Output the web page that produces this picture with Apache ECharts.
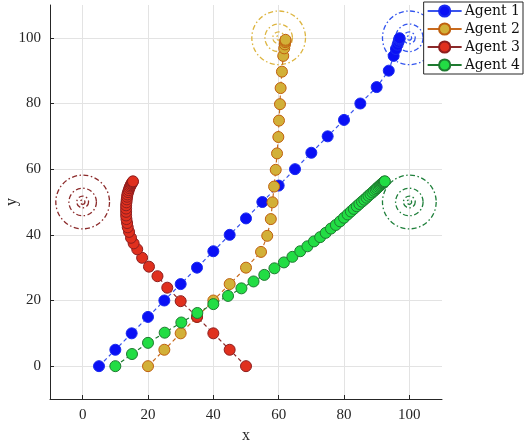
<!DOCTYPE html>
<html>
<head>
<meta charset="utf-8">
<script src="https://cdn.jsdelivr.net/npm/echarts@6/dist/echarts.min.js"></script>
<style>
  html, body { margin: 0; padding: 0; background: #fff; }
  #chart { width: 525px; height: 440px; }
</style>
</head>
<body>
<div id="chart"></div>
<script>
// trajectories
const agent1X = [5, 10, 15, 20, 25, 30, 35, 40, 45, 50, 55, 60, 65, 70, 75, 80, 85, 90, 93.7, 95.2, 95.9, 96.4, 96.7, 96.9, 97, 97];
const agent1Y = [0, 5, 10, 15, 20, 25, 30, 35, 40, 45, 50, 55, 60, 65, 70, 75, 80, 85, 90, 94.5, 96.6, 97.9, 98.8, 99.4, 99.7, 99.9];

const agent2X = [20, 25, 30, 35, 40, 45, 50, 54.6, 56.5, 57.6, 58.1, 58.6, 59.1, 59.5, 59.9, 60.1, 60.4, 60.6, 61, 61.4, 61.7, 61.9, 62, 62.1, 62.1];
const agent2Y = [0, 5, 10, 15, 20, 25, 30, 34.8, 39.7, 44.8, 49.9, 54.7, 59.8, 64.8, 69.8, 74.8, 79.8, 84.7, 89.7, 94.5, 96.8, 98, 98.7, 99.1, 99.4];

const agent3X = [50, 45, 40, 35, 30, 25.9, 22.9, 20.3, 18.2, 16.7, 15.6, 14.8, 14.2, 13.8, 13.6, 13.4, 13.3, 13.3, 13.3, 13.3, 13.4, 13.5, 13.6, 13.7, 13.9, 14.1, 14.3, 14.5, 14.7, 14.9, 15.1, 15.3, 15.4];
const agent3Y = [0, 5, 10, 15, 19.8, 23.9, 27.4, 30.3, 33, 35.6, 37.4, 39.1, 40.9, 42.3, 43.6, 44.8, 45.9, 47, 48, 49, 49.9, 50.8, 51.6, 52.3, 53, 53.6, 54.2, 54.7, 55.1, 55.5, 55.8, 56.1, 56.3];

const agent4X = [10, 15.1, 20, 25.1, 30.2, 35.1, 40, 44.5, 48.6, 52.3, 55.6, 58.7, 61.6, 64.2, 66.6, 68.8, 70.8, 72.7, 74.4, 76, 77.5, 78.8, 80, 81.1, 82.1, 83, 83.9, 84.7, 85.5, 86.2, 86.9, 87.5, 88.1, 88.7, 89.2, 89.7, 90.1, 90.5, 90.9, 91.2, 91.5, 91.8, 92, 92.2, 92.4, 92.5];
const agent4Y = [0, 3.7, 7.1, 10.2, 13.3, 16.2, 18.9, 21.4, 23.7, 25.8, 27.8, 29.8, 31.6, 33.3, 35, 36.5, 38, 39.3, 40.6, 41.9, 43, 44.1, 45.2, 46.2, 47.1, 47.9, 48.7, 49.4, 50.1, 50.7, 51.3, 51.9, 52.4, 52.9, 53.4, 53.8, 54.2, 54.6, 54.9, 55.2, 55.5, 55.7, 55.9, 56.1, 56.2, 56.3];

const agentNames = ['Agent 1', 'Agent 2', 'Agent 3', 'Agent 4'];
const targetX = [100, 60, 0, 100];
const targetY = [100, 100, 50, 50];
const ringRadii = [8.2, 4.2, 1.8, 0.7];
const tickValues = [0, 20, 40, 60, 80, 100];

const fillColors = ['#0a10f5', '#d2b038', '#e0301e', '#22dd44'];
const edgeColors = ['#1a2af0', '#c0600f', '#8e1e1e', '#1e7a30'];
const lineColors = ['#3a55ec', '#c86a1e', '#8b2a2a', '#1e7a30'];
const ringColors = ['#3355ee', '#ddb540', '#8b2a2a', '#1e7f3a'];

const trajX = [agent1X, agent2X, agent3X, agent4X];
const trajY = [agent1Y, agent2Y, agent3Y, agent4Y];

const chart = echarts.init(document.getElementById('chart'));
const font = 'Liberation Serif';

const ringData = [];
targetX.forEach((tx, i) => {
  ringRadii.forEach(r => ringData.push([tx, targetY[i], r, i]));
});

const series = [{
  type: 'custom',
  silent: true,
  data: ringData,
  z: 1,
  renderItem: (params, api) => {
    const c = api.coord([api.value(0), api.value(1)]);
    const s = api.size([api.value(2), api.value(2)]);
    return {
      type: 'circle',
      shape: { cx: c[0], cy: c[1], r: (s[0] + s[1]) / 2 },
      style: { fill: 'none', stroke: ringColors[api.value(3)], lineWidth: 1.3, lineDash: [5, 2.5, 1.5, 2.5] }
    };
  }
}];

agentNames.forEach((name, i) => {
  series.push({
    name: name,
    type: 'line',
    z: 3 + i,
    data: trajX[i].map((x, k) => [x, trajY[i][k]]),
    symbol: 'circle',
    symbolSize: 11,
    showSymbol: true,
    showAllSymbol: true,
    itemStyle: { color: fillColors[i], borderColor: edgeColors[i], borderWidth: 1 },
    lineStyle: { color: lineColors[i], width: 1.2, type: [4, 3] }
  });
});

const axisCommon = {
  type: 'value',
  min: -10,
  max: 110,
  nameLocation: 'middle',
  nameMoveOverlap: false,
  nameTextStyle: { fontFamily: font, fontSize: 16, color: '#262626' },
  axisLine: { show: true, onZero: false, lineStyle: { color: '#262626', width: 1 } },
  axisTick: { show: true, inside: true, length: 4, customValues: tickValues, lineStyle: { color: '#262626' } },
  axisLabel: { customValues: tickValues, fontFamily: font, fontSize: 15, color: '#262626', margin: 9 },
  splitLine: { show: true, lineStyle: { color: '#e3e3e3', width: 1 } }
};

chart.setOption({
  animation: false,
  backgroundColor: '#fff',
  grid: { left: 50, right: 83, top: 5, bottom: 41, containLabel: false, outerBoundsMode: 'none' },
  xAxis: Object.assign({}, axisCommon, { name: 'x', nameGap: 29 }),
  yAxis: Object.assign({}, axisCommon, { name: 'y', nameGap: 30 }),
  legend: {
    data: agentNames,
    orient: 'vertical',
    right: 2,
    top: 2,
    itemGap: 4,
    itemWidth: 34,
    itemHeight: 14,
    padding: [2, 3, 2, 3],
    borderColor: '#262626',
    borderWidth: 1,
    borderRadius: 0,
    backgroundColor: '#fff',
    lineStyle: { type: 'solid' },
    textStyle: { fontFamily: 'DejaVu Serif', fontSize: 14, color: '#111', padding: [0, 0, 0, -2] }
  },
  series: series
});
</script>
</body>
</html>
